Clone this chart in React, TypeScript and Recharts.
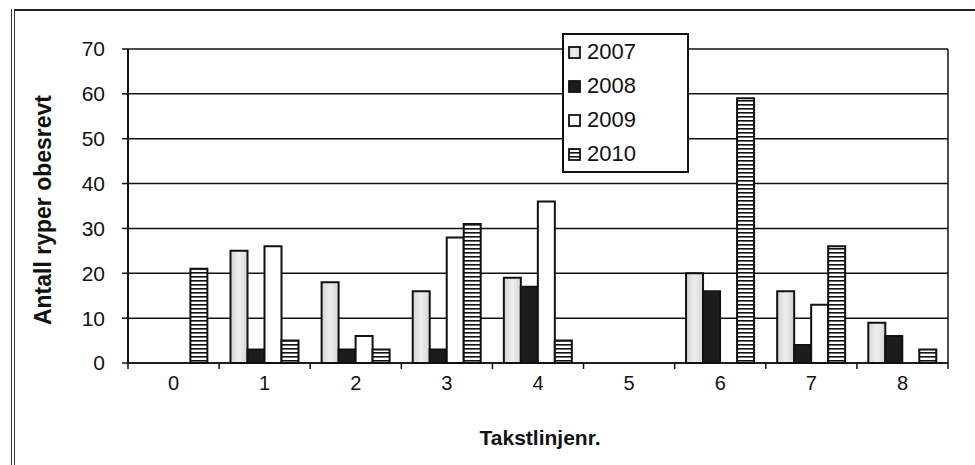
import React from 'react'
import { Bar, BarChart, CartesianGrid, Label, Legend, XAxis, YAxis } from 'recharts'

const categories = ['0', '1', '2', '3', '4', '5', '6', '7', '8']
const v2007 = [null, 25, 18, 16, 19, null, 20, 16, 9]
const v2008 = [null, 3, 3, 3, 17, null, 16, 4, 6]
const v2009 = [null, 26, 6, 28, 36, null, null, 13, null]
const v2010 = [21, 5, 3, 31, 5, null, 59, 26, 3]
const yTicks = [0, 10, 20, 30, 40, 50, 60, 70]

const FONT = '"Liberation Sans", Arial, sans-serif'

const series = [
  { key: 'y2007', name: '2007', fill: 'url(#fill2007)' },
  { key: 'y2008', name: '2008', fill: '#1c1c1c' },
  { key: 'y2009', name: '2009', fill: '#ffffff' },
  { key: 'y2010', name: '2010', fill: 'url(#stripes2010)' },
]

const data = categories.map((c, i) => ({
  name: c,
  y2007: v2007[i],
  y2008: v2008[i],
  y2009: v2009[i],
  y2010: v2010[i],
}))

const W = 975
const H = 465
const plotW = 820
const band = plotW / categories.length

// x tick: label in the middle, tick marks on the category edges
function XTick(props: any) {
  const { x, y, payload, index } = props
  const half = payload && payload.offset ? payload.offset : band / 2
  return (
    <g>
      <line x1={x - half} x2={x - half} y1={y} y2={y + 6} stroke="#111" strokeWidth={1.5} />
      {index === categories.length - 1 && (
        <line x1={x + half} x2={x + half} y1={y} y2={y + 6} stroke="#111" strokeWidth={1.5} />
      )}
      <text x={x} y={y + 27} textAnchor="middle" fontFamily={FONT} fontSize={20} fill="#111">
        {payload.value}
      </text>
    </g>
  )
}

function LegendIcon({ k }: { k: string }) {
  const s = series.find(i => i.key === k)
  return (
    <svg width={13} height={13} style={{ marginRight: 6 }}>
      <rect x={1} y={1} width={11} height={11} fill={s ? s.fill : '#fff'} stroke="#111" strokeWidth={1.8} />
    </svg>
  )
}

function LegendBox(props: any) {
  const { payload } = props
  return (
    <div
      style={{
        width: 127,
        height: 140,
        border: '2px solid #111',
        background: '#fff',
        display: 'flex',
        flexDirection: 'column',
        justifyContent: 'space-around',
        paddingLeft: 4,
        boxSizing: 'border-box',
        fontFamily: FONT,
        fontSize: 22,
        color: '#111',
      }}
    >
      {(payload || []).map((p: any) => (
        <div key={p.value} style={{ display: 'flex', alignItems: 'center', lineHeight: '24px' }}>
          <LegendIcon k={p.dataKey} />
          <span>{p.value}</span>
        </div>
      ))}
    </div>
  )
}

export default function App() {
  return (
    <div style={{ position: 'absolute', left: 0, top: 0, width: W, height: H, background: '#fff' }}>
      {/* paint definitions */}
      <svg width={0} height={0} style={{ position: 'absolute' }}>
        <defs>
          <linearGradient id="fill2007" x1="0" y1="0" x2="1" y2="0">
            <stop offset="0%" stopColor="#d4d4d4" />
            <stop offset="50%" stopColor="#efefef" />
            <stop offset="100%" stopColor="#d4d4d4" />
          </linearGradient>
          <pattern id="stripes2010" width={4} height={4} patternUnits="userSpaceOnUse">
            <rect width={4} height={4} fill="#fff" />
            <rect y={0} width={4} height={1.6} fill="#111" />
          </pattern>
        </defs>
      </svg>

      {/* frame of the scanned figure */}
      <div style={{ position: 'absolute', left: 14, top: 9, width: W - 14, height: 0, borderTop: '2px solid #222' }} />
      <div style={{ position: 'absolute', left: 11, top: 9, width: 2, height: H - 9, borderLeft: '1.5px solid #333', borderRight: '1.5px solid #333' }} />

      <BarChart
        width={W}
        height={H}
        data={data}
        margin={{ top: 49, right: 27, bottom: 0, left: 0 }}
        barCategoryGap="12.5%"
        barGap={0}
      >
        <CartesianGrid
          stroke="#111"
          strokeWidth={1.5}
          vertical={true}
          verticalCoordinatesGenerator={({ offset }: any) => [offset.left + offset.width]}
        />
        <XAxis
          dataKey="name"
          height={102}
          tickSize={0}
          tickMargin={0}
          tickLine={false}
          axisLine={{ stroke: '#111', strokeWidth: 1.5 }}
          tick={<XTick />}
          interval={0}
        >
          <Label
            content={() => (
              <text x={540} y={445} textAnchor="middle" fontFamily={FONT} fontSize={21} fontWeight="bold" fill="#111">
                Takstlinjenr.
              </text>
            )}
          />
        </XAxis>
        <YAxis
          width={128}
          domain={[0, 70]}
          ticks={yTicks}
          interval={0}
          tickSize={6}
          tickMargin={17}
          tickLine={{ stroke: '#111', strokeWidth: 1.5 }}
          axisLine={{ stroke: '#111', strokeWidth: 2 }}
          tick={{ fontFamily: FONT, fontSize: 21, fill: '#111' }}
        >
          <Label
            content={() => (
              <text
                x={51}
                y={210}
                transform="rotate(-90 51 210)"
                textAnchor="middle"
                fontFamily={FONT}
                fontSize={23}
                fontWeight="bold"
                fill="#111"
              >
                Antall ryper obesrevt
              </text>
            )}
          />
        </YAxis>
        <Legend
          layout="vertical"
          align="center"
          verticalAlign="middle"
          content={<LegendBox />}
          wrapperStyle={{ left: 562, top: 33, width: 127, height: 140 }}
        />
        {series.map(s => (
          <Bar
            key={s.key}
            dataKey={s.key}
            name={s.name}
            fill={s.fill}
            stroke="#111"
            strokeWidth={2}
            isAnimationActive={false}
          />
        ))}
      </BarChart>
    </div>
  )
}
